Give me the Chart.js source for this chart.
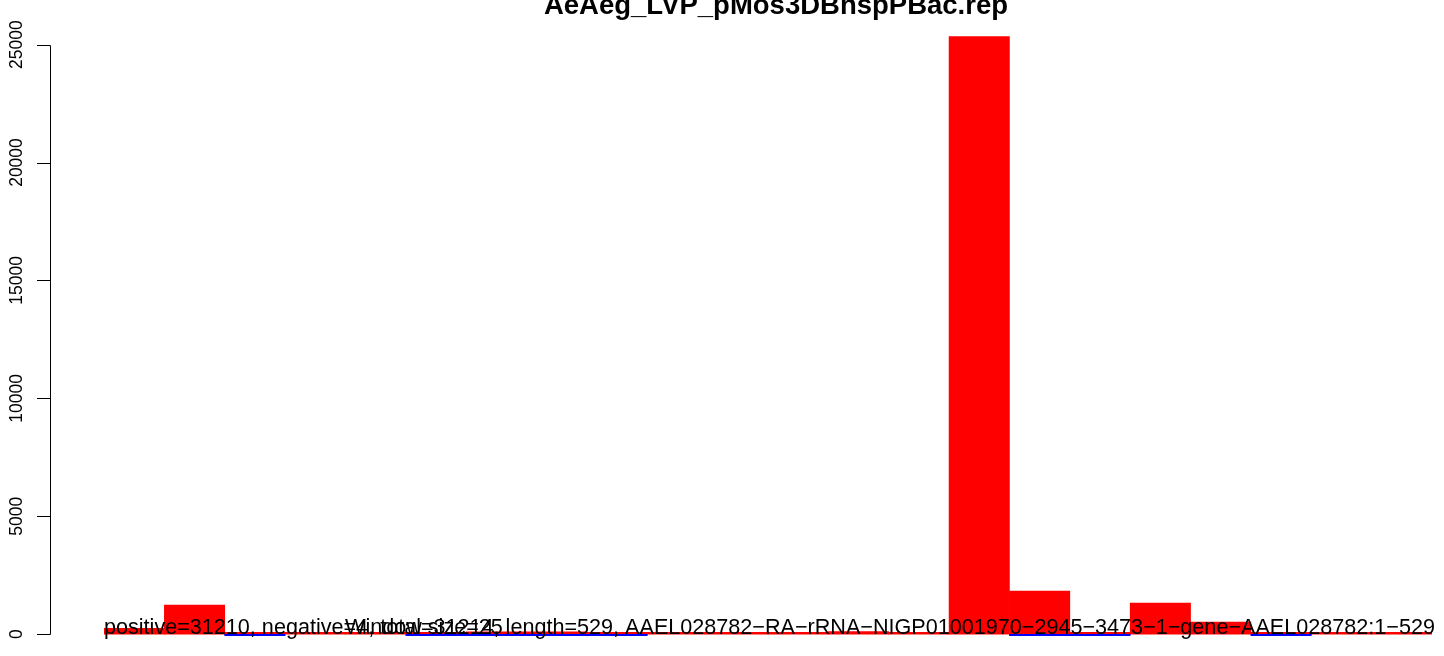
<!DOCTYPE html>
<html>
<head>
<meta charset="utf-8">
<script src="https://cdn.jsdelivr.net/npm/chart.js@4.4.1/dist/chart.umd.min.js"></script>
<style>
html,body{margin:0;padding:0;background:#fff;}
#wrap{width:1444px;height:656px;position:relative;}
</style>
</head>
<body>
<div id="wrap"><canvas id="c" width="1444" height="656"></canvas></div>
<script>
const categories = ["1","2","3","4","5","6","7","8","9","10","11","12","13","14","15","16","17","18","19","20","21","22"];
const positiveCounts = [250,1230,30,30,30,40,100,100,30,30,30,30,110,30,25340,1825,30,1316,510,40,30,30];
const negativeCounts = [null,null,-1,null,null,-1,-1,-1,-1,null,null,null,null,null,null,-1,-1,null,null,-1,null,null];
const yTicks = [0,5000,10000,15000,20000,25000];
const titleText = "AeAeg_LVP_pMos3DBnspPBac.rep";
const infoText = "positive=31210, negative=4, total=31214, length=529, AAEL028782\u2212RA\u2212rRNA\u2212NIGP01001970\u22122945\u22123473\u22121\u2212gene\u2212AAEL028782:1\u2212529";
const windowText = "Window size=25";

const FONT = "'Liberation Sans', Arial, Helvetica, sans-serif";

const decor = {
  id: 'decor',
  afterDraw(chart) {
    const ctx = chart.ctx;
    const y = chart.scales.y;
    ctx.save();
    const axX = 50;
    ctx.strokeStyle = '#000';
    ctx.lineWidth = 1;
    ctx.beginPath();
    ctx.moveTo(axX + 0.5, Math.round(y.getPixelForValue(yTicks[0])) + 0.5);
    ctx.lineTo(axX + 0.5, Math.round(y.getPixelForValue(yTicks[yTicks.length - 1])) + 0.5);
    yTicks.forEach(t => {
      const py = Math.round(y.getPixelForValue(t)) + 0.5;
      ctx.moveTo(37, py);
      ctx.lineTo(axX + 0.5, py);
    });
    ctx.stroke();
    ctx.fillStyle = '#000';
    ctx.font = '17.5px ' + FONT;
    ctx.textAlign = 'center';
    ctx.textBaseline = 'alphabetic';
    yTicks.forEach(t => {
      const py = y.getPixelForValue(t);
      ctx.save();
      ctx.translate(22, py);
      ctx.rotate(-Math.PI / 2);
      ctx.fillText(String(t), 0, 0);
      ctx.restore();
    });
    ctx.font = 'bold 27.5px ' + FONT;
    ctx.textAlign = 'center';
    ctx.fillText(titleText, 776, 14);
    ctx.font = '21.6px ' + FONT;
    ctx.textAlign = 'left';
    ctx.fillText(infoText, 104, 634);
    ctx.fillText(windowText, 345, 634);
    ctx.restore();
  }
};

new Chart(document.getElementById('c'), {
  type: 'bar',
  data: {
    labels: categories,
    datasets: [
      {
        label: 'negative',
        data: negativeCounts,
        backgroundColor: '#0000ff',
        borderWidth: 0,
        minBarLength: 1.5,
        barPercentage: 1,
        categoryPercentage: 1,
        order: 0
      },
      {
        label: 'positive',
        data: positiveCounts,
        backgroundColor: '#ff0000',
        borderWidth: 0,
        minBarLength: 2,
        barPercentage: 1,
        categoryPercentage: 1,
        order: 1
      }
    ]
  },
  options: {
    responsive: false,
    animation: false,
    devicePixelRatio: 1,
    layout: { padding: { left: 104, right: 12, top: 21, bottom: 10 } },
    plugins: { legend: { display: false }, tooltip: { enabled: false }, title: { display: false } },
    scales: {
      x: { display: false, stacked: true, offset: true },
      y: { display: false, stacked: false, min: -500, max: 26000 }
    }
  },
  plugins: [decor]
});
</script>
</body>
</html>
